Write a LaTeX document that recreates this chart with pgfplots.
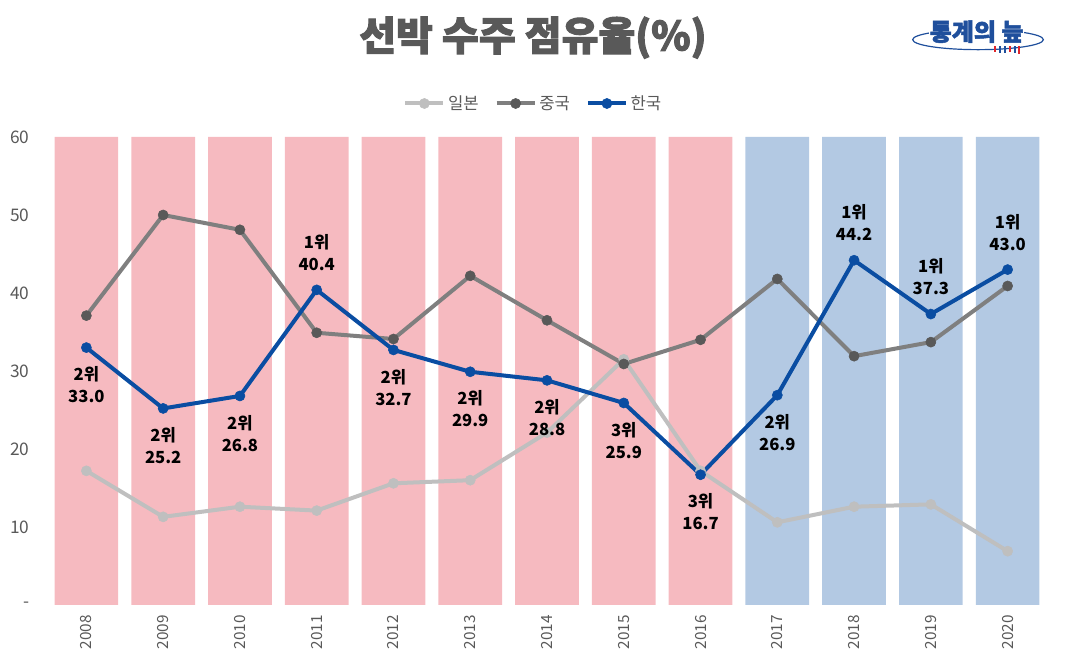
\documentclass[border=0pt]{standalone}
\usepackage{fontspec}
\setmainfont{Noto Sans CJK KR}
\newfontfamily\titlefont[BoldFeatures={FakeBold=2.5}]{Noto Sans CJK KR}
\newfontfamily\logofont[BoldFeatures={FakeBold=2}]{Noto Sans CJK KR}
\usepackage{pgfplots}
\pgfplotsset{compat=1.18}
\usepackage{pgfplotstable}

\definecolor{pinkbg}{HTML}{F6BAC0}
\definecolor{bluebg}{HTML}{B3C9E3}
\definecolor{jpn}{HTML}{BFBFBF}
\definecolor{chn}{HTML}{7F7F7F}
\definecolor{chnm}{HTML}{595959}
\definecolor{kor}{HTML}{0A4DA2}
\definecolor{tickc}{HTML}{595959}
\definecolor{logoc}{HTML}{1F4F9C}
\definecolor{logored}{HTML}{E0262B}

\pgfplotstableread{
x jp cn kr
0 17.2 37.1 33.0
1 11.3 50.0 25.2
2 12.6 48.1 26.8
3 12.1 34.9 40.4
4 15.6 34.1 32.7
5 16.0 42.2 29.9
6 22.1 36.5 28.8
7 31.5 30.9 25.9
8 17.2 34.0 16.7
9 10.6 41.8 26.9
10 12.6 31.9 44.2
11 12.9 33.7 37.3
12 6.9 40.9 43.0
}\shares

% Korea rank labels (below the point)
\pgfplotstableread{
x kr rank
0 33.0 2
1 25.2 2
2 26.8 2
4 32.7 2
5 29.9 2
6 28.8 2
7 25.9 3
8 16.7 3
9 26.9 2
}\korbelow

% Korea rank labels (above the point)
\pgfplotstableread{
x kr rank
3 40.4 1
10 44.2 1
11 37.3 1
12 43.0 1
}\korabove

\pgfplotsset{
  korlabel/.style={draw=none, mark=none, forget plot,
    point meta=explicit symbolic,
    visualization depends on={y \as \yval},
    nodes near coords={\pgfplotspointmeta 위\\\pgfmathprintnumber[fixed,fixed zerofill,precision=1]{\yval}},
    every node near coord/.append style={anchor=#1, align=center, text=black,
      font=\bfseries\fontsize{12.5}{16.5}\selectfont, outer ysep=11pt}},
}

\begin{document}
\begin{tikzpicture}
\begin{axis}[
  scale only axis, width=748.5pt, height=351pt,
  xmin=-0.5, xmax=12.5, ymin=0, ymax=60,
  axis line style={draw=none}, major tick length=0pt,
  xtick={0,...,12},
  xticklabels={2008,2009,2010,2011,2012,2013,2014,2015,2016,2017,2018,2019,2020},
  x tick label style={rotate=90, anchor=east, font=\fontsize{11.5}{13}\selectfont, text=tickc, xshift=-4pt},
  ytick={0,10,...,60}, yticklabels={-,10,20,30,40,50,60},
  y tick label style={font=\fontsize{13}{15}\selectfont, text=tickc, xshift=-10.5pt},
  /pgf/number format/assume math mode=true,
  clip=false,
  legend columns=3,
  legend style={at={(0.5,1)}, anchor=south, yshift=15pt, xshift=-10pt, draw=none, fill=none,
    font=\fontsize{12.5}{14}\selectfont, text=tickc,
    /tikz/every even column/.append style={column sep=10pt}},
  legend image code/.code={\draw[#1,mark repeat=2,mark phase=2] plot coordinates {(0cm,0cm) (0.5cm,0cm) (1.0cm,0cm)};},
]
\addplot[ybar, bar width=0.83, bar shift=0pt, fill=pinkbg, draw=none, forget plot] coordinates {(0,60) (1,60) (2,60) (3,60) (4,60) (5,60) (6,60) (7,60) (8,60)};
\addplot[ybar, bar width=0.83, bar shift=0pt, fill=bluebg, draw=none, forget plot] coordinates {(9,60) (10,60) (11,60) (12,60)};

\addplot[jpn, line width=3pt, mark=*, mark size=3.8pt, mark options={fill=jpn, draw=jpn, line width=0.4pt}] table[x=x, y=jp] {\shares};
\addlegendentry{일본}
\addplot[chn, line width=3pt, mark=*, mark size=3.8pt, mark options={fill=chnm, draw=chnm, line width=0.4pt}] table[x=x, y=cn] {\shares};
\addlegendentry{중국}
\addplot[kor, line width=3pt, mark=*, mark size=3.8pt, mark options={fill=kor, draw=kor, line width=0.4pt}] table[x=x, y=kr] {\shares};
\addlegendentry{한국}
\addplot[korlabel=north] table[x=x, y=kr, meta=rank] {\korbelow};
\addplot[korlabel=south] table[x=x, y=kr, meta=rank] {\korabove};
\end{axis}
\node[font=\titlefont\bfseries\fontsize{30}{34}\selectfont, text=tickc] at ([xshift=-10.5pt, yshift=74.5pt]current axis.north) {선박 수주 점유율(\%)};
\draw[logoc, line width=0.9pt] ([xshift=-51pt, yshift=73pt]current axis.north east) ellipse (49pt and 7.5pt);
\node[font=\logofont\bfseries\fontsize{18}{20}\selectfont, text=logoc, fill=white, inner sep=0.5pt] at ([xshift=-52pt, yshift=79pt]current axis.north east) {통계의 늪};
\foreach \dx/\h/\c in {-38/4/logored, -34.5/5/logoc, -31/5/logoc, -27/4/logored, -23.5/5/logoc, -20/6/logored}
  \draw[\c, line width=1.5pt] ([xshift=\dx pt, yshift=68pt]current axis.north east) -- ++(0,-\h pt);
\useasboundingbox ([xshift=-36pt, yshift=-44.25pt]current axis.south west) rectangle ([xshift=15pt, yshift=102.75pt]current axis.north east);
\end{tikzpicture}
\end{document}
